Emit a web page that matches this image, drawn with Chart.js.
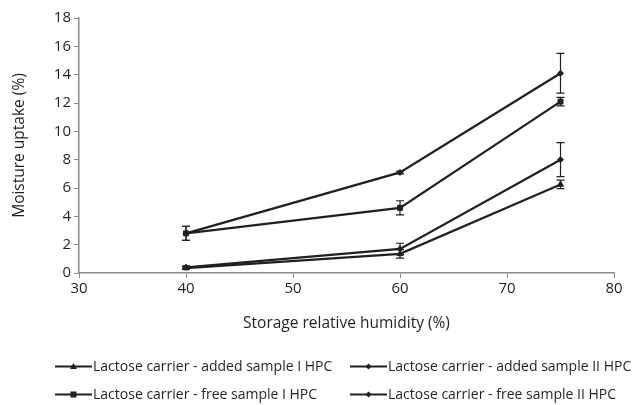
<!DOCTYPE html>
<html>
<head>
<meta charset="utf-8">
<script src="https://cdn.jsdelivr.net/npm/chart.js@4.4.0/dist/chart.umd.min.js"></script>
<style>
  html, body { margin:0; padding:0; background:#fff; }
  #wrap { position:relative; width:633px; height:405px; overflow:hidden; }
  canvas { position:absolute; left:0; top:0; }
  .leg { position:absolute; font-family:"Open Sans", sans-serif; font-size:14px; line-height:16px; color:#231f20; white-space:nowrap; display:flex; align-items:center; }
</style>
</head>
<body>
<div id="wrap">
  <canvas id="c" width="633" height="405"></canvas>
  <div id="legend"></div>
</div>
<script>
const humidity = [40, 60, 75];
const seriesNames = [
  "Lactose carrier - added sample I HPC",
  "Lactose carrier - added sample II HPC",
  "Lactose carrier - free sample I HPC",
  "Lactose carrier - free sample II HPC"
];
const addedI = [0.35, 1.35, 6.25];
const addedI_err = [0.1, 0.3, 0.3];
const addedII = [0.4, 1.7, 8.0];
const addedII_err = [0.1, 0.4, 1.2];
const freeI = [2.8, 4.6, 12.1];
const freeI_err = [0.5, 0.5, 0.3];
const freeII = [2.8, 7.1, 14.1];
const freeII_err = [0.5, 0.1, 1.4];
const xTicks = [30, 40, 50, 60, 70, 80];
const yTicks = [0, 2, 4, 6, 8, 10, 12, 14, 16, 18];

const values = [addedI, addedII, freeI, freeII];
const errors = [addedI_err, addedII_err, freeI_err, freeII_err];
const markers = ['triangle', 'rectRot', 'rect', 'rectRot'];
const markerR = [3.5, 3, 3.5, 3];
const ink = '#231f20';
const axisGray = '#8c8c8c';
const font = '"Open Sans", sans-serif';

const datasets = values.map((v, i) => ({
  label: seriesNames[i],
  data: humidity.map((x, j) => ({x: x, y: v[j]})),
  errs: errors[i],
  borderColor: ink,
  backgroundColor: ink,
  borderWidth: 2.2,
  pointStyle: markers[i],
  pointRadius: markerR[i],
  pointBorderWidth: 1,
  tension: 0,
  fill: false
}));

const errorBars = {
  id: 'errorBars',
  afterDatasetsDraw(chart) {
    const ctx = chart.ctx;
    const ys = chart.scales.y, xs = chart.scales.x;
    ctx.save();
    ctx.strokeStyle = ink;
    ctx.lineWidth = 1.2;
    chart.data.datasets.forEach(ds => {
      ds.data.forEach((p, j) => {
        const e = ds.errs[j];
        const px = xs.getPixelForValue(p.x);
        const top = ys.getPixelForValue(p.y + e);
        const bot = ys.getPixelForValue(p.y - e);
        ctx.beginPath();
        ctx.moveTo(px, top); ctx.lineTo(px, bot);
        ctx.moveTo(px - 4, top); ctx.lineTo(px + 4, top);
        ctx.moveTo(px - 4, bot); ctx.lineTo(px + 4, bot);
        ctx.stroke();
      });
    });
    ctx.restore();
  }
};

new Chart(document.getElementById('c'), {
  type: 'line',
  data: { datasets },
  options: {
    responsive: false,
    animation: false,
    layout: { padding: { left: 10, right: 19, top: 18, bottom: 72 } },
    plugins: { legend: { display: false }, tooltip: { enabled: false } },
    scales: {
      x: {
        type: 'linear', min: 30, max: 80,
        afterBuildTicks: s => { s.ticks = xTicks.map(v => ({value: v})); },
        afterFit: s => { s.height = 60; },
        grid: { drawOnChartArea: false, drawTicks: true, tickLength: 5, color: axisGray },
        border: { color: axisGray, width: 1.5 },
        ticks: { color: ink, font: { family: font, size: 15 }, padding: 2 },
        title: { display: true, text: 'Storage relative humidity (%)', color: ink, font: { family: font, size: 15.5 }, padding: { top: 4, bottom: 0 } }
      },
      y: {
        min: 0, max: 18,
        afterBuildTicks: s => { s.ticks = yTicks.map(v => ({value: v})); },
        afterFit: s => { s.width = 69; },
        grid: { drawOnChartArea: false, drawTicks: true, tickLength: 5, color: axisGray },
        border: { color: axisGray, width: 1.5 },
        ticks: { color: ink, font: { family: font, size: 15 }, padding: 3 },
        title: { display: true, text: 'Moisture uptake (%)', color: ink, font: { family: font, size: 15.5 }, padding: { top: 0, bottom: 0 } }
      }
    }
  },
  plugins: [errorBars]
});

// legend (HTML, two aligned columns)
const legPos = [[55, 366], [350, 366], [55, 394], [350, 394]];
const legend = document.getElementById('legend');
seriesNames.forEach((name, i) => {
  const d = document.createElement('div');
  d.className = 'leg';
  d.style.left = legPos[i][0] + 'px';
  d.style.top = (legPos[i][1] - 9) + 'px';
  d.style.height = '18px';
  let mk = '';
  if (markers[i] === 'triangle') mk = '<polygon points="18.5,5 22,11 15,11" fill="' + ink + '"/>';
  else if (markers[i] === 'rect') mk = '<rect x="15.5" y="5.5" width="6" height="6" fill="' + ink + '"/>';
  else mk = '<polygon points="18.5,5.5 21.5,8.5 18.5,11.5 15.5,8.5" fill="' + ink + '"/>';
  d.innerHTML = '<svg width="38" height="17"><line x1="0" y1="8.5" x2="37" y2="8.5" stroke="' + ink + '" stroke-width="2.2"/>' + mk + '</svg>' + name;
  legend.appendChild(d);
});
</script>
</body>
</html>
